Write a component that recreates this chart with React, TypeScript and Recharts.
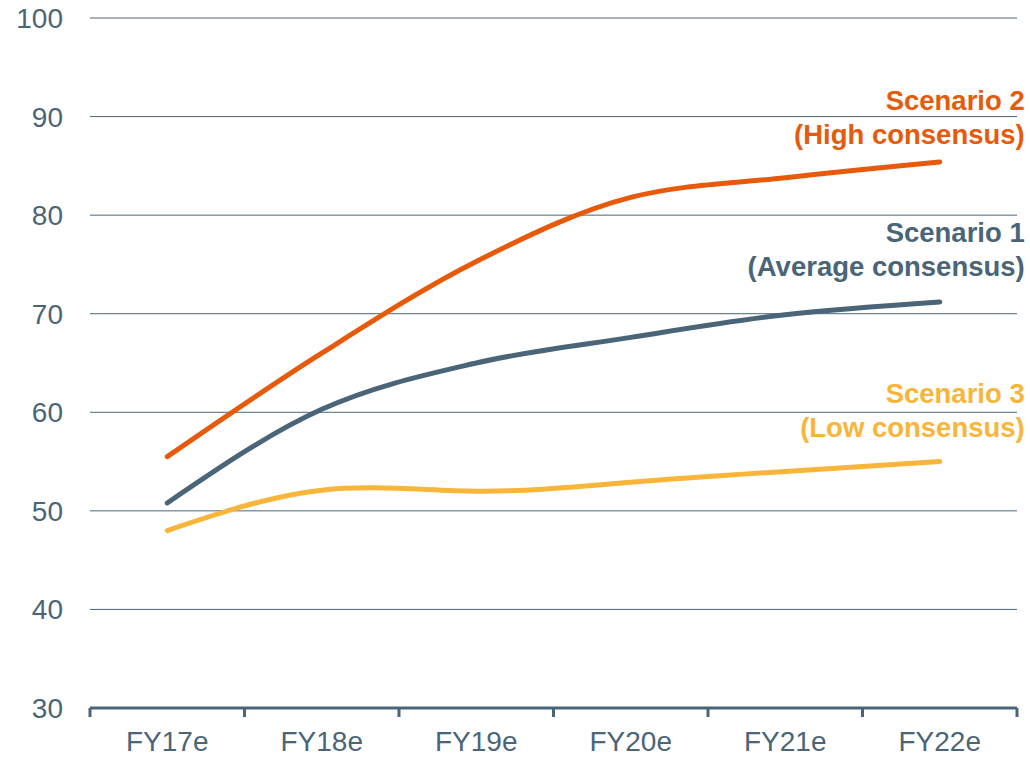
import React from "react";
import {
  CartesianGrid,
  LabelList,
  Line,
  LineChart,
  XAxis,
  YAxis,
} from "recharts";

const years = ["FY17e", "FY18e", "FY19e", "FY20e", "FY21e", "FY22e"];
const scenario1 = [50.8, 60.3, 65.0, 67.6, 69.9, 71.2];
const scenario2 = [55.5, 66.0, 75.3, 81.8, 83.8, 85.4];
const scenario3 = [48.0, 52.1, 52.0, 52.9, 54.0, 55.0];
const yTicks = [30, 40, 50, 60, 70, 80, 90, 100];

const data = years.map((year, i) => ({
  year,
  s1: scenario1[i],
  s2: scenario2[i],
  s3: scenario3[i],
}));

const FONT = "'Liberation Sans', Arial, sans-serif";
const SLATE = "#4a6577";
const ORANGE = "#e65a0a";
const YELLOW = "#f9b53a";

const W = 1030;
const H = 758;
const MARGIN = { top: 18, right: 13, bottom: 0, left: 0 };
const Y_W = 90;
const BAND = (W - MARGIN.left - MARGIN.right - Y_W) / years.length;

// category label in the band centre, small tick marks on the band edges
const YearTick = (props: any) => {
  const { x, y, payload, index } = props;
  const half = BAND / 2;
  const mark = (mx: number) => (
    <line x1={mx} x2={mx} y1={y} y2={y + 9} stroke={SLATE} strokeWidth={3} />
  );
  return (
    <g>
      {mark(x - half)}
      {index === years.length - 1 && mark(x + half)}
      <text
        x={x}
        y={y + 23}
        dy="0.71em"
        textAnchor="middle"
        fill={SLATE}
        fontSize={28}
        fontFamily={FONT}
      >
        {payload.value}
      </text>
    </g>
  );
};

const endLabel =
  (lines: string[], color: string, top: number) => (props: any) => {
    const { x, y, index } = props;
    if (index !== years.length - 1) return null;
    return (
      <text
        x={x + 85}
        y={y + top}
        textAnchor="end"
        fill={color}
        fontFamily={FONT}
        fontWeight="bold"
        fontSize={27.5}
      >
        {lines.map((t, i) => (
          <tspan key={i} x={x + 85} dy={i === 0 ? 0 : 34}>
            {t}
          </tspan>
        ))}
      </text>
    );
  };

export default function App() {
  return (
    <div style={{ position: "absolute", left: 0, top: 0 }}>
      <LineChart width={W} height={H} data={data} margin={MARGIN}>
        <CartesianGrid vertical={false} stroke={SLATE} strokeWidth={1} />
        <XAxis
          dataKey="year"
          scale="band"
          height={50}
          axisLine={{ stroke: SLATE, strokeWidth: 3 }}
          tickLine={false}
          tickSize={0}
          tickMargin={0}
          interval={0}
          tick={YearTick}
        />
        <YAxis
          domain={[30, 100]}
          ticks={yTicks}
          width={Y_W}
          axisLine={false}
          tickLine={false}
          tickSize={0}
          tickMargin={27}
          tick={{ fill: SLATE, fontSize: 28, fontFamily: FONT }}
        />
        <Line
          type="natural"
          dataKey="s3"
          stroke={YELLOW}
          strokeWidth={5}
          strokeLinecap="round"
          dot={false}
          isAnimationActive={false}
        >
          <LabelList
            dataKey="s3"
            content={endLabel(["Scenario 3", "(Low consensus)"], YELLOW, -59)}
          />
        </Line>
        <Line
          type="monotone"
          dataKey="s1"
          stroke={SLATE}
          strokeWidth={5}
          strokeLinecap="round"
          dot={false}
          isAnimationActive={false}
        >
          <LabelList
            dataKey="s1"
            content={endLabel(["Scenario 1", "(Average consensus)"], SLATE, -60)}
          />
        </Line>
        <Line
          type="monotone"
          dataKey="s2"
          stroke={ORANGE}
          strokeWidth={5}
          strokeLinecap="round"
          dot={false}
          isAnimationActive={false}
        >
          <LabelList
            dataKey="s2"
            content={endLabel(["Scenario 2", "(High consensus)"], ORANGE, -52)}
          />
        </Line>
      </LineChart>
    </div>
  );
}
